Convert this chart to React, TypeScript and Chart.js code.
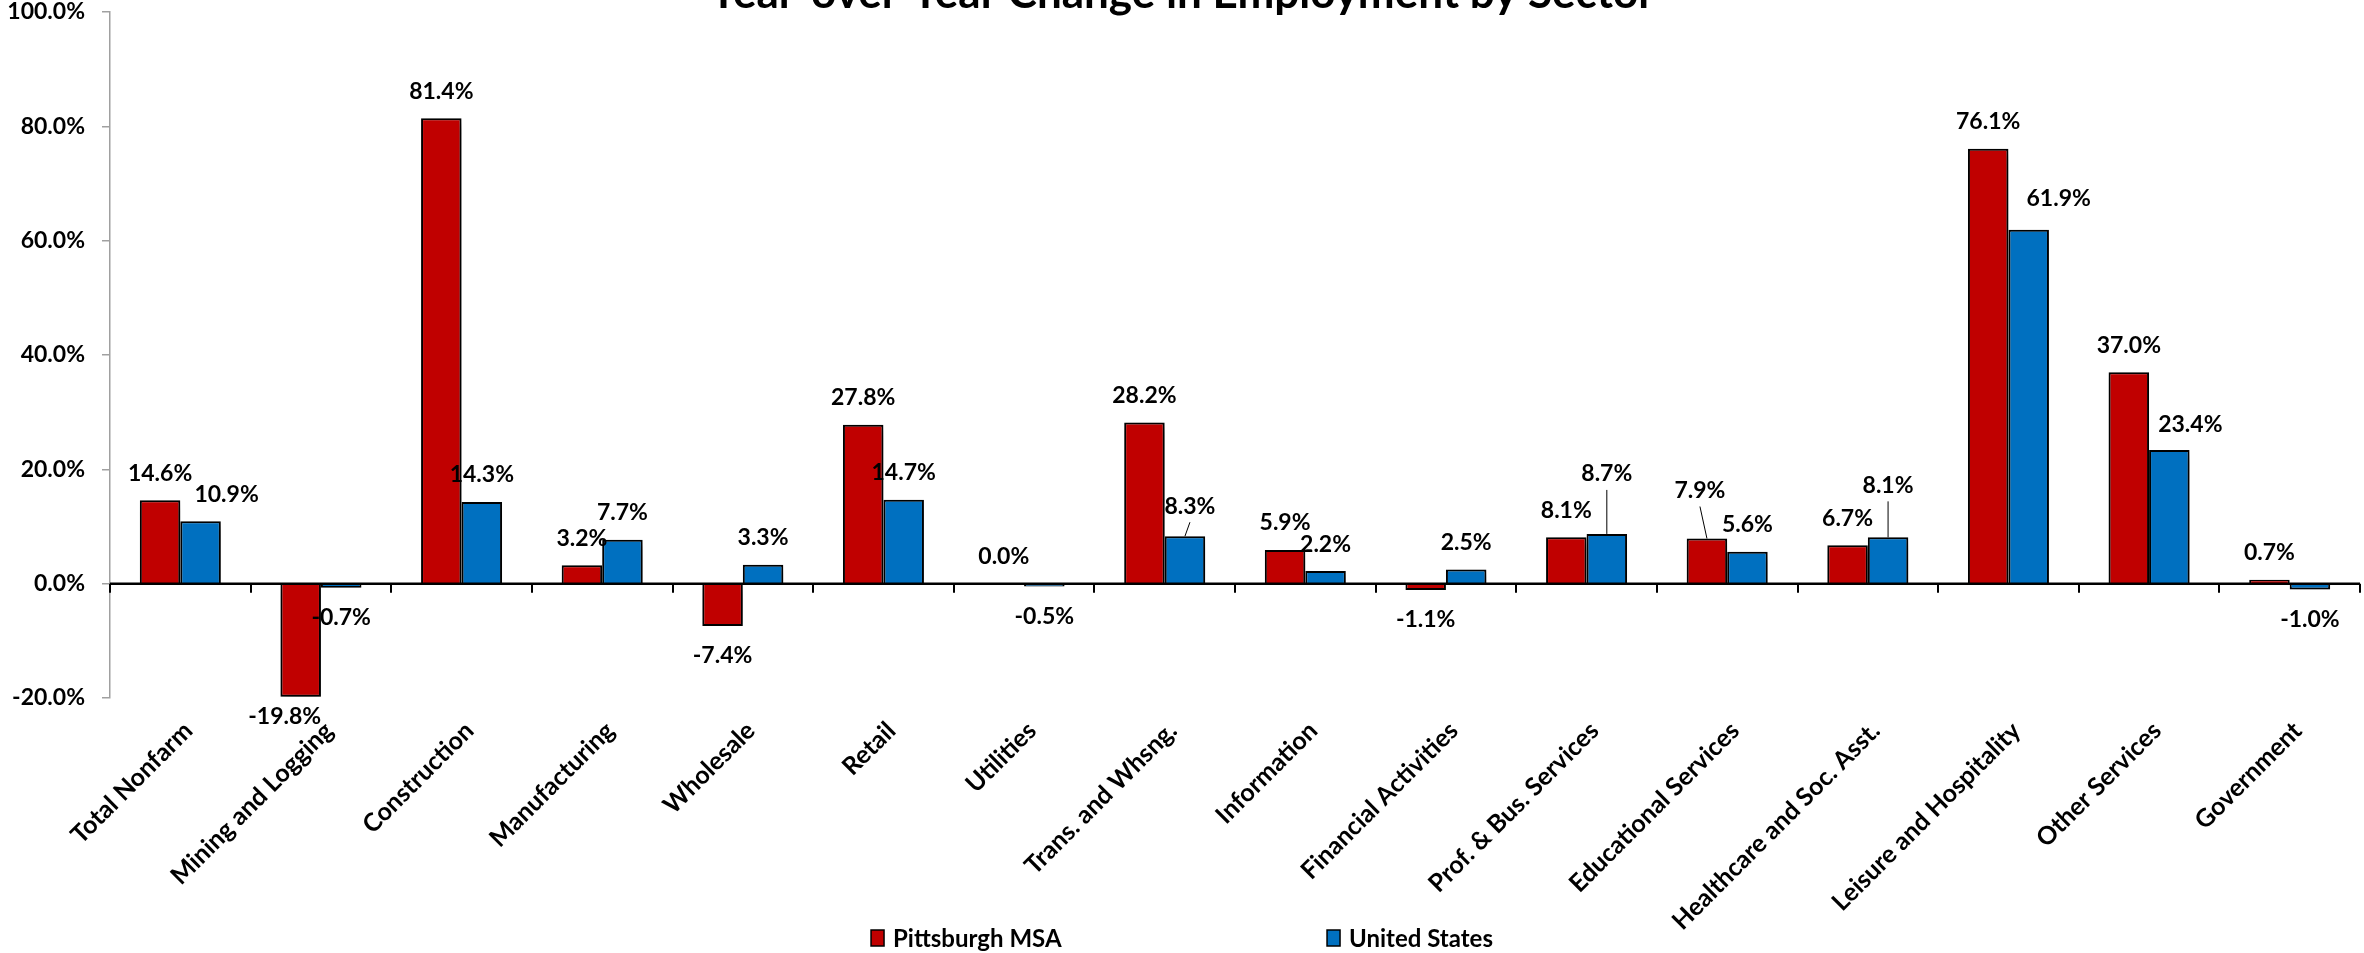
import React, { useEffect, useRef } from "react";
import { Chart, registerables } from "chart.js";

Chart.register(...registerables);

// ---------- data ----------
const chartTitle = "Year-over-Year Change in Employment by Sector";
const categories = [
  "Total Nonfarm",
  "Mining and Logging",
  "Construction",
  "Manufacturing",
  "Wholesale",
  "Retail",
  "Utilities",
  "Trans. and Whsng.",
  "Information",
  "Financial Activities",
  "Prof. & Bus. Services",
  "Educational Services",
  "Healthcare and Soc. Asst.",
  "Leisure and Hospitality",
  "Other Services",
  "Government",
];
const seriesNames = ["Pittsburgh MSA", "United States"];
const pittsburgh = [14.6, -19.8, 81.4, 3.2, -7.4, 27.8, 0.0, 28.2, 5.9, -1.1, 8.1, 7.9, 6.7, 76.1, 37.0, 0.7];
const unitedStates = [10.9, -0.7, 14.3, 7.7, 3.3, 14.7, -0.5, 8.3, 2.2, 2.5, 8.7, 5.6, 8.1, 61.9, 23.4, -1.0];
const yTickValues = [-20, 0, 20, 40, 60, 80, 100];

// ---------- styles ----------
const COLORS = ["#C00000", "#0070C0"];
const FONT = "Lato";
// label nudges (px) per series: index -> [dx, dy]
const labelNudges: Record<number, [number, number]>[] = [
  { 1: [-16, -10], 11: [-7, -21] },
  { 0: [26, 0], 7: [5, -3], 10: [0, -33], 12: [0, -25], 13: [30, -4], 14: [21, 2] },
];
const leaderLines: number[][] = [[11], [7, 10, 12]];

const decoPlugin = {
  id: "deco",
  beforeDatasetsDraw(chart: any) {
    const ctx = chart.ctx;
    ctx.save();
    ctx.shadowColor = "rgba(0,0,0,0.45)";
    ctx.shadowBlur = 10;
    ctx.shadowOffsetX = 3;
    ctx.shadowOffsetY = 5;
  },
  afterDatasetsDraw(chart: any) {
    const ctx = chart.ctx;
    ctx.restore();
    const { x, y } = chart.scales;
    const area = chart.chartArea;
    const y0 = y.getPixelForValue(0);
    const catW = x.getPixelForValue(1) - x.getPixelForValue(0);

    // zero axis line with tick marks at category boundaries
    ctx.save();
    ctx.strokeStyle = "#000";
    ctx.lineWidth = 2.5;
    ctx.beginPath();
    ctx.moveTo(area.left, y0);
    ctx.lineTo(area.right, y0);
    ctx.stroke();
    ctx.lineWidth = 2;
    for (let i = 0; i <= categories.length; i++) {
      const bx = Math.round(x.getPixelForValue(i) - catW / 2);
      ctx.beginPath();
      ctx.moveTo(bx, y0);
      ctx.lineTo(bx, y0 + 9);
      ctx.stroke();
    }
    ctx.restore();

    // data labels
    ctx.save();
    ctx.font = `bold 23px ${FONT}`;
    ctx.fillStyle = "#000";
    ctx.textAlign = "center";
    ctx.textBaseline = "middle";
    chart.data.datasets.forEach((ds: any, di: number) => {
      const meta = chart.getDatasetMeta(di);
      meta.data.forEach((el: any, i: number) => {
        const v = ds.data[i];
        const nudge = labelNudges[di][i] || [0, 0];
        const cx = el.x + nudge[0];
        const cy = (v >= 0 ? el.y - 27 : el.y + 30) + nudge[1];
        ctx.fillText(v.toFixed(1) + "%", cx, cy);
        if (leaderLines[di].includes(i)) {
          ctx.save();
          ctx.strokeStyle = "#000";
          ctx.lineWidth = 1;
          ctx.beginPath();
          ctx.moveTo(cx, cy + 16);
          ctx.lineTo(el.x, el.y);
          ctx.stroke();
          ctx.restore();
        }
      });
    });
    ctx.restore();
  },
  afterDraw(chart: any) {
    const ctx = chart.ctx;
    const W = chart.width;
    ctx.save();
    // title (partially clipped at the top, as in the reference)
    ctx.font = `bold 44px ${FONT}`;
    ctx.fillStyle = "#000";
    ctx.textAlign = "center";
    ctx.textBaseline = "alphabetic";
    ctx.fillText(chartTitle, W / 2, 8);

    // legend
    ctx.font = `bold 24px ${FONT}`;
    ctx.textAlign = "left";
    ctx.textBaseline = "middle";
    const ly = 938;
    const gap = 456;
    const w2 = 22 + ctx.measureText(seriesNames[1]).width;
    const lx = W / 2 - (gap + w2) / 2;
    seriesNames.forEach((name, i) => {
      const sx = lx + i * gap;
      ctx.fillStyle = COLORS[i];
      ctx.fillRect(sx, ly - 8, 13, 16);
      ctx.strokeStyle = "#000";
      ctx.lineWidth = 1.5;
      ctx.strokeRect(sx, ly - 8, 13, 16);
      ctx.fillStyle = "#000";
      ctx.fillText(name, sx + 22, ly + 1);
    });
    ctx.restore();
  },
};

export default function App() {
  const canvasRef = useRef<HTMLCanvasElement | null>(null);

  useEffect(() => {
    document.body.style.margin = "0";
    Chart.defaults.font.family = FONT;
    const chart = new Chart(canvasRef.current as HTMLCanvasElement, {
      type: "bar",
      data: {
        labels: categories,
        datasets: [
          {
            label: seriesNames[0],
            data: pittsburgh,
            backgroundColor: COLORS[0],
            borderColor: "#000",
            borderWidth: 2,
            categoryPercentage: 0.576,
            barPercentage: 1.0,
          },
          {
            label: seriesNames[1],
            data: unitedStates,
            backgroundColor: COLORS[1],
            borderColor: "#000",
            borderWidth: 2,
            categoryPercentage: 0.576,
            barPercentage: 1.0,
          },
        ],
      },
      options: {
        animation: false,
        responsive: true,
        maintainAspectRatio: false,
        layout: { padding: { top: 12, right: 4, left: 0, bottom: 0 } },
        plugins: {
          legend: { display: false },
          title: { display: false },
          tooltip: { enabled: false },
        },
        scales: {
          x: {
            grid: { display: false, drawTicks: false },
            border: { display: false },
            ticks: {
              autoSkip: false,
              minRotation: 45,
              maxRotation: 45,
              padding: 18,
              labelOffset: 8,
              color: "#000",
              font: { size: 25, weight: "bold", family: FONT },
            },
            afterFit: (s: any) => {
              s.height = 255;
            },
          },
          y: {
            min: -20,
            max: 100,
            afterBuildTicks: (s: any) => {
              s.ticks = yTickValues.map((v) => ({ value: v }));
            },
            grid: {
              drawOnChartArea: false,
              drawTicks: true,
              tickLength: 8,
              color: "#a0a0a0",
              lineWidth: 1.5,
            },
            border: { display: true, color: "#a0a0a0", width: 1.5 },
            ticks: {
              padding: 17,
              color: "#000",
              font: { size: 23, weight: "bold", family: FONT },
              callback: (v: any) => Number(v).toFixed(1) + "%",
            },
            afterFit: (s: any) => {
              s.width = 110;
              s.paddingTop = 0;
              s.paddingBottom = 0;
            },
          },
        },
      },
      plugins: [decoPlugin],
    });
    return () => chart.destroy();
  }, []);

  return (
    <div style={{ width: "2364px", height: "953px", position: "relative" }}>
      <canvas ref={canvasRef} />
    </div>
  );
}
